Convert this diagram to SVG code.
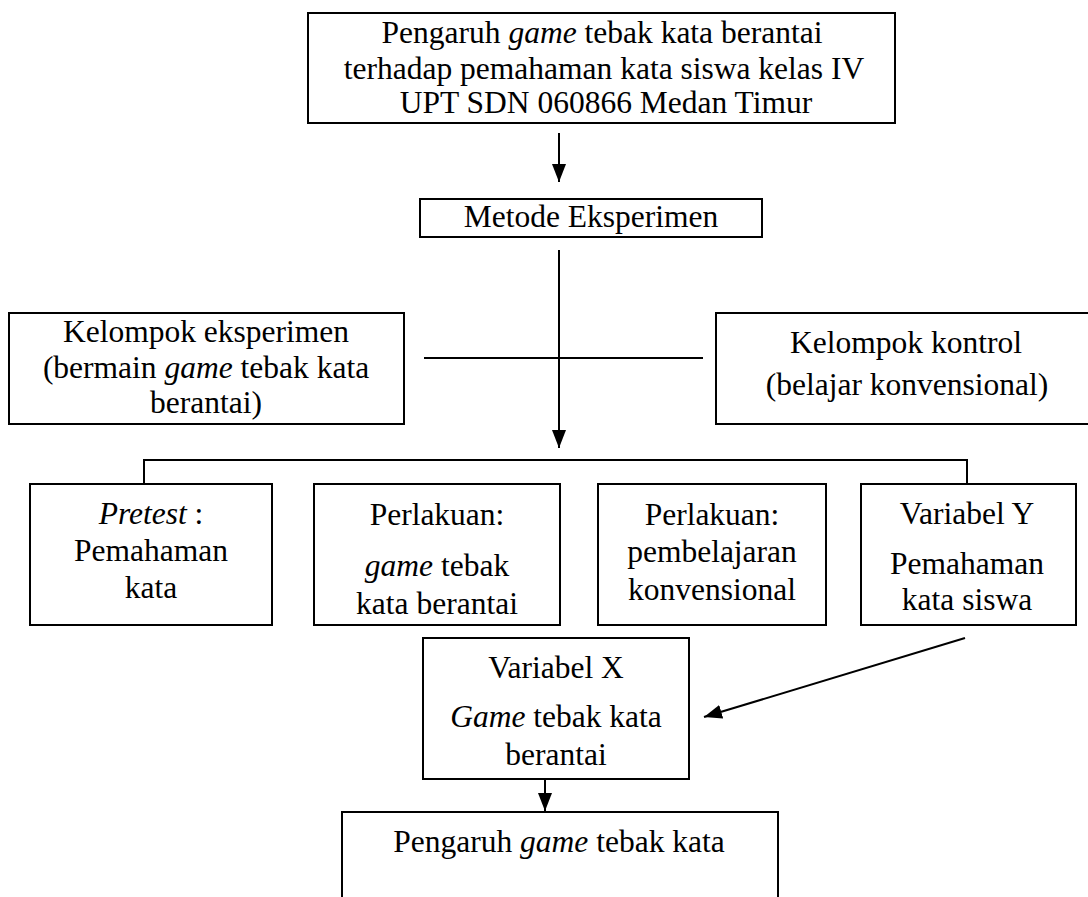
<svg xmlns="http://www.w3.org/2000/svg" width="1088" height="897" viewBox="0 0 1088 897">
<style>
.box{fill:#fff;stroke:#000;stroke-width:2}
.ln{fill:none;stroke:#000;stroke-width:2}
text{font-family:"Liberation Serif","Times New Roman",serif;font-size:31.5px;fill:#000;text-anchor:middle}
.i{font-style:italic}
</style>
<defs>
<marker id="ah" markerUnits="userSpaceOnUse" markerWidth="18" markerHeight="14" refX="18" refY="7" viewBox="0 0 18 14" orient="auto">
<path d="M0,0 L18,7 L0,14 Z" fill="#000"/>
</marker>
</defs>
<rect width="1088" height="897" fill="#fff"/>
<g id="connectors">
<line class="ln" x1="559" y1="133" x2="559" y2="182" marker-end="url(#ah)"/>
<line class="ln" x1="559" y1="250" x2="559" y2="448" marker-end="url(#ah)"/>
<line class="ln" x1="424" y1="358" x2="703" y2="358"/>
<polyline class="ln" points="144,484 144,460 967,460 967,484"/>
<line class="ln" x1="965" y1="638" x2="704" y2="717" marker-end="url(#ah)"/>
<line class="ln" x1="545" y1="779" x2="545" y2="811" marker-end="url(#ah)"/>
</g>
<g id="n-top">
<rect class="box" x="308" y="13" width="587" height="110"/>
<text x="602" y="43">Pengaruh <tspan class="i">game</tspan> tebak kata berantai</text>
<text x="604" y="79">terhadap pemahaman kata siswa kelas IV</text>
<text x="606" y="113">UPT SDN 060866 Medan Timur</text>
</g>
<g id="n-metode">
<rect class="box" x="420" y="199" width="342" height="38"/>
<text x="591" y="227">Metode Eksperimen</text>
</g>
<g id="n-eksperimen">
<rect class="box" x="9" y="313" width="395" height="111"/>
<text x="206" y="342">Kelompok eksperimen</text>
<text x="206" y="378">(bermain <tspan class="i">game</tspan> tebak kata</text>
<text x="206" y="413">berantai)</text>
</g>
<g id="n-kontrol">
<rect class="box" x="716" y="313" width="382" height="111"/>
<text x="906" y="353">Kelompok kontrol</text>
<text x="907" y="395">(belajar konvensional)</text>
</g>
<g id="n-pretest">
<rect class="box" x="30" y="484" width="242" height="141"/>
<text x="151" y="524"><tspan class="i">Pretest</tspan> :</text>
<text x="151" y="561">Pemahaman</text>
<text x="151" y="598">kata</text>
</g>
<g id="n-perlakuan1">
<rect class="box" x="314" y="484" width="246" height="141"/>
<text x="437" y="525">Perlakuan:</text>
<text x="437" y="576"><tspan class="i">game</tspan> tebak</text>
<text x="437" y="614">kata berantai</text>
</g>
<g id="n-perlakuan2">
<rect class="box" x="598" y="484" width="228" height="141"/>
<text x="712" y="525">Perlakuan:</text>
<text x="712" y="562">pembelajaran</text>
<text x="712" y="600">konvensional</text>
</g>
<g id="n-variabely">
<rect class="box" x="861" y="484" width="215" height="141"/>
<text x="967" y="524">Variabel Y</text>
<text x="967" y="574">Pemahaman</text>
<text x="967" y="610">kata siswa</text>
</g>
<g id="n-variabelx">
<rect class="box" x="423" y="638" width="266" height="141"/>
<text x="556" y="678">Variabel X</text>
<text x="556" y="727"><tspan class="i">Game</tspan> tebak kata</text>
<text x="556" y="765">berantai</text>
</g>
<g id="n-pengaruh">
<rect class="box" x="342" y="812" width="436" height="100"/>
<text x="559" y="852">Pengaruh <tspan class="i">game</tspan> tebak kata</text>
</g>
</svg>
